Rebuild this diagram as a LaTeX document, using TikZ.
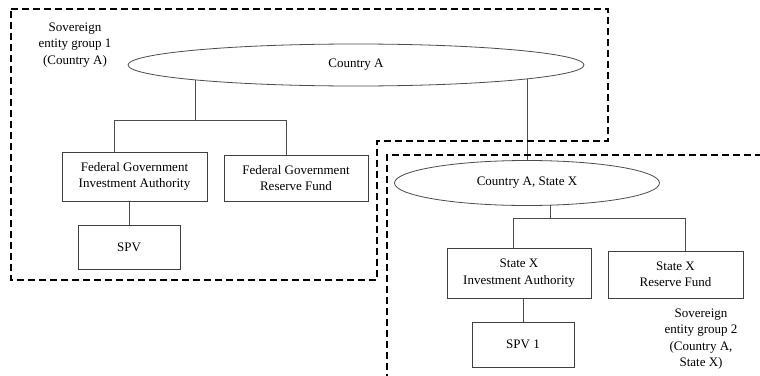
\documentclass[tikz,border=0pt]{standalone}
\usepackage{fontspec}
\setmainfont{Liberation Serif}
\usetikzlibrary{shapes.geometric,backgrounds}
\begin{document}
\begin{tikzpicture}[x=1pt,y=-1pt,
  every node/.style={font=\fontsize{13}{16.3}\selectfont, align=center, inner sep=0pt},
  ent/.style={ellipse, draw=black!70, fill=white, line width=0.8pt},
  box/.style={rectangle, draw=black!75, fill=white, line width=0.8pt},
  conn/.style={draw=black!70, line width=0.8pt},
  grp/.style={draw=black, line width=1.6pt, dash pattern=on 7pt off 4pt},
  lbl/.style={text=black}]
\useasboundingbox (0,0) rectangle (760,375);
% group outlines
\draw[grp] (11,9) -- (608,9) -- (608,141) -- (377,141) -- (377,280) -- (11,280) -- cycle;
\draw[grp] (762,155) -- (387,155) -- (387,377);
% nodes
\node[ent, minimum width=456pt, minimum height=42pt] (cA) at (356,65) {Country A};
\node[ent, minimum width=265pt, minimum height=45pt] (cAX) at (527,183) {Country A, State X};
\node[box, minimum width=145pt, minimum height=49pt] (fgia) at (134.5,176.5) {Federal Government\\Investment Authority};
\node[box, minimum width=144pt, minimum height=46pt] (fgrf) at (296,178) {Federal Government\\Reserve Fund};
\node[box, minimum width=102pt, minimum height=44pt] (spv) at (129,247) {SPV};
\node[box, minimum width=144pt, minimum height=50pt] (sxia) at (519,273) {State X\\Investment Authority};
\node[box, minimum width=135pt, minimum height=47pt] (sxrf) at (675.5,274.5) {State X\\Reserve Fund};
\node[box, minimum width=102pt, minimum height=45pt] (spv1) at (523,344.5) {SPV 1};
\node[lbl] (g1) at (75,45) {Sovereign\\entity group 1\\(Country A)};
\node[lbl] (g2) at (701,339) {Sovereign\\entity group 2\\(Country A,\\State X)};
% junction coordinates
\coordinate (j1) at (195,120);
\coordinate (j1l) at (114,120);
\coordinate (j1r) at (286,120);
\coordinate (j2) at (550,218);
\coordinate (j2l) at (513,218);
\coordinate (j2r) at (685,218);
% connectors (behind the filled shapes)
\begin{pgfonlayer}{background}
\draw[conn] (j1 |- cA.center) -- (j1);
\draw[conn] (j1l |- fgia.north) -- (j1l) -- (j1r) -- (j1r |- fgrf.north);
\draw[conn] (spv.north) -- (spv.north |- fgia.south);
\draw[conn] (cAX.north) -- (cAX.north |- cA.center);
\draw[conn] (j2 |- cAX.center) -- (j2);
\draw[conn] (j2l |- sxia.north) -- (j2l) -- (j2r) -- (j2r |- sxrf.north);
\draw[conn] (spv1.north) -- (spv1.north |- sxia.south);
\end{pgfonlayer}
\end{tikzpicture}
\end{document}
